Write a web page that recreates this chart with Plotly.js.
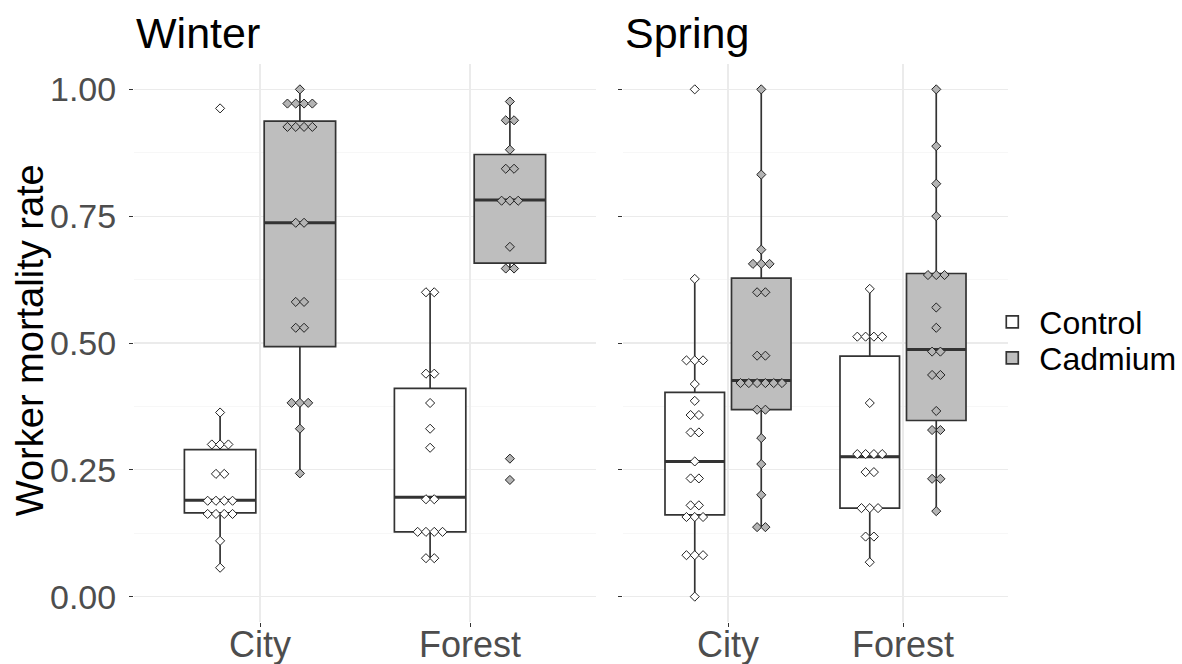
<!DOCTYPE html>
<html>
<head>
<meta charset="utf-8">
<script src="https://cdn.plot.ly/plotly-3.0.1.min.js"></script>
<style>html,body{margin:0;padding:0;background:#fff;}#chart{width:1182px;height:664px;}</style>
</head>
<body>
<div id="chart"></div>
<script>
// ---- data ----
const categories = ['City', 'Forest'];
const seasons = ['Winter', 'Spring'];
const treatments = ['Control', 'Cadmium'];
const yTickVals = [0, 0.25, 0.5, 0.75, 1];
const yTickText = ['0.00', '0.25', '0.50', '0.75', '1.00'];

const winterCityControl = [0.9625, 0.363, 0.29, 0.30, 0.31, 0.242, 0.242, 0.186, 0.188, 0.19, 0.192, 0.161, 0.161, 0.165, 0.165, 0.110, 0.057];
const winterCityCadmium = [1.0, 0.972, 0.972, 0.972, 0.972, 0.926, 0.926, 0.926, 0.926, 0.737, 0.737, 0.581, 0.581, 0.530, 0.530, 0.382, 0.382, 0.382, 0.331, 0.243];
const winterForestControl = [0.600, 0.600, 0.4395, 0.4395, 0.3817, 0.331, 0.2935, 0.188, 0.196, 0.1277, 0.1277, 0.1277, 0.1277, 0.0758, 0.0758];
const winterForestCadmium = [0.976, 0.939, 0.939, 0.881, 0.8435, 0.8435, 0.778, 0.781, 0.783, 0.6896, 0.6468, 0.6468, 0.272, 0.230];
const springCityControl = [1.0, 0.6264, 0.4658, 0.4658, 0.4658, 0.419, 0.386, 0.358, 0.358, 0.3237, 0.3237, 0.2665, 0.233, 0.233, 0.180, 0.180, 0.150, 0.158, 0.164, 0.0817, 0.0817, 0.0817, 0.0];
const springCityCadmium = [1.0, 0.832, 0.684, 0.656, 0.656, 0.656, 0.600, 0.600, 0.475, 0.475, 0.414, 0.416, 0.419, 0.422, 0.426, 0.428, 0.3685, 0.3685, 0.3126, 0.2613, 0.2007, 0.137, 0.137];
const springForestControl = [0.6067, 0.505, 0.51, 0.515, 0.52, 0.3817, 0.274, 0.278, 0.284, 0.288, 0.2455, 0.2455, 0.1745, 0.1745, 0.1745, 0.1184, 0.1184, 0.0679];
const springForestCadmium = [1.0, 0.888, 0.814, 0.75, 0.628, 0.634, 0.64, 0.570, 0.530, 0.479, 0.487, 0.437, 0.437, 0.366, 0.3284, 0.3284, 0.2323, 0.2323, 0.1685];

const seriesBySeason = {
  Winter: { Control: [winterCityControl, winterForestControl], Cadmium: [winterCityCadmium, winterForestCadmium] },
  Spring: { Control: [springCityControl, springForestControl], Cadmium: [springCityCadmium, springForestCadmium] }
};

// ---- styling / layout constants ----
const W = 1182, H = 664;
const M = { l: 134, r: 174, t: 64, b: 42, autoexpand: false };
const plotW = W - M.l - M.r;
const domains = { Winter: [0, 0.5286], Spring: [0.5595, 1] };
const xRange = [0.4, 2.6];
const BOXGAP = 0.24, BOXGROUPGAP = 0.105;
const fills = { Control: '#FFFFFF', Cadmium: '#BEBEBE' };
const dotFills = { Control: '#FFFFFF', Cadmium: '#B4B4B4' };
const DOT_PX = 8.3;       // horizontal spacing between stacked dots (px)
const ROW_GAP = 0.013;    // values closer than this share one dot row
const FONT = 'Liberation Sans, Arial, sans-serif';
const legendIds = { Control: 'legend', Cadmium: 'legend2' };

function dotRows(vals) {
  const s = [...vals].sort((a, b) => a - b);
  const rows = []; let cur = [s[0]];
  for (let i = 1; i < s.length; i++) {
    if (s[i] - s[i - 1] <= ROW_GAP) cur.push(s[i]);
    else { rows.push(cur); cur = [s[i]]; }
  }
  rows.push(cur);
  return rows.map(r => ({ y: (r[0] + r[r.length - 1]) / 2, n: r.length }));
}
// ggplot2 / R type-7 box statistics
function quantile7(s, p) {
  const h = (s.length - 1) * p, lo = Math.floor(h), hi = Math.ceil(h);
  return s[lo] + (s[hi] - s[lo]) * (h - lo);
}
function boxStats(vals) {
  const s = [...vals].sort((a, b) => a - b);
  const q1 = quantile7(s, 0.25), med = quantile7(s, 0.5), q3 = quantile7(s, 0.75);
  const iqr = q3 - q1;
  const inside = s.filter(v => v >= q1 - 1.5 * iqr && v <= q3 + 1.5 * iqr);
  return { q1, med, q3, lf: inside[0], uf: inside[inside.length - 1] };
}

const traces = [];
seasons.forEach((season, si) => {
  const xa = si === 0 ? 'x' : 'x2';
  const ya = si === 0 ? 'y' : 'y2';
  const d = domains[season];
  const pxPerUnit = (d[1] - d[0]) * plotW / (xRange[1] - xRange[0]);
  const spacing = DOT_PX / pxPerUnit;
  const halfBox = (1 - BOXGAP) / 4 * (1 - BOXGROUPGAP);
  treatments.forEach((tr, ti) => {
    const st = seriesBySeason[season][tr].map(boxStats);
    traces.push({
      type: 'box', x: categories.map((c, i) => i + 1), xaxis: xa, yaxis: ya,
      q1: st.map(s => s.q1), median: st.map(s => s.med), q3: st.map(s => s.q3),
      lowerfence: st.map(s => s.lf), upperfence: st.map(s => s.uf),
      name: tr, legendgroup: tr, legend: legendIds[tr], showlegend: si === 1,
      alignmentgroup: season, offsetgroup: tr,
      fillcolor: fills[tr], line: { color: '#333333', width: 1.7 },
      whiskerwidth: 0, hoverinfo: 'skip'
    });
  });
  // thicker median segments (ggplot style), from the same data
  const mx = [], my = [];
  treatments.forEach((tr, ti) => {
    const groupOffset = (ti === 0 ? -1 : 1) * (1 - BOXGAP) / 4;
    categories.forEach((cat, ci) => {
      const m = boxStats(seriesBySeason[season][tr][ci]).med;
      const c = ci + 1 + groupOffset;
      mx.push(c - halfBox, c + halfBox, null);
      my.push(m, m, null);
    });
  });
  traces.push({
    type: 'scatter', mode: 'lines', x: mx, y: my, xaxis: xa, yaxis: ya,
    showlegend: false, hoverinfo: 'skip', line: { color: '#333333', width: 3 }
  });
  treatments.forEach((tr, ti) => {
    const groupOffset = (ti === 0 ? -1 : 1) * (1 - BOXGAP) / 4;
    const px = [], py = [];
    categories.forEach((cat, ci) => {
      dotRows(seriesBySeason[season][tr][ci]).forEach(row => {
        for (let k = 0; k < row.n; k++) {
          px.push(ci + 1 + groupOffset + (k - (row.n - 1) / 2) * spacing);
          py.push(row.y);
        }
      });
    });
    traces.push({
      type: 'scatter', mode: 'markers', x: px, y: py, xaxis: xa, yaxis: ya,
      showlegend: false, hoverinfo: 'skip',
      marker: { symbol: 'diamond', size: 7, color: dotFills[tr], line: { color: '#222222', width: 1 } }
    });
  });
});

function xAxis(season, anchor) {
  return {
    domain: domains[season], anchor: anchor, range: xRange,
    tickmode: 'array', tickvals: categories.map((c, i) => i + 1), ticktext: categories,
    showgrid: true, gridcolor: '#EBEBEB', gridwidth: 1.2, zeroline: false, showline: false,
    ticks: 'outside', ticklen: 4, tickcolor: '#333333', tickwidth: 1, ticklabelstandoff: -13,
    tickfont: { family: FONT, size: 36, color: '#4D4D4D' }, fixedrange: true
  };
}
function yAxis(anchor, labels) {
  return {
    domain: [0, 1], anchor: anchor, range: [-0.05, 1.05],
    tickmode: 'array', tickvals: yTickVals, ticktext: yTickText, showticklabels: labels,
    showgrid: true, gridcolor: '#EBEBEB', gridwidth: 1.2, zeroline: false, showline: false,
    minor: { tickmode: 'linear', tick0: 0, dtick: 0.125, showgrid: true, gridcolor: '#F4F4F4', gridwidth: 0.7, ticks: '' },
    ticks: 'outside', ticklen: 4, tickcolor: '#333333', tickwidth: 1, ticklabelstandoff: 6,
    tickfont: { family: FONT, size: 34, color: '#4D4D4D' }, fixedrange: true
  };
}

const legendBase = { x: 0.974, xanchor: 'left', yanchor: 'middle', font: { family: FONT, size: 32, color: '#000' }, bgcolor: 'rgba(0,0,0,0)', itemwidth: 44 };

const layout = {
  width: W, height: H, margin: M,
  paper_bgcolor: '#FFFFFF', plot_bgcolor: '#FFFFFF',
  font: { family: FONT, color: '#000000' },
  boxmode: 'group', boxgap: BOXGAP, boxgroupgap: BOXGROUPGAP,
  xaxis: xAxis('Winter', 'y'), xaxis2: xAxis('Spring', 'y2'),
  yaxis: yAxis('x', true), yaxis2: yAxis('x2', false),
  showlegend: true,
  legend: Object.assign({}, legendBase, { y: 0.5376 }),
  legend2: Object.assign({}, legendBase, { y: 0.4731 }),
  annotations: [
    { text: seasons[0], xref: 'paper', yref: 'paper', x: domains.Winter[0], xanchor: 'left', y: 1.056, yanchor: 'middle', showarrow: false, font: { family: FONT, size: 43, color: '#000' } },
    { text: seasons[1], xref: 'paper', yref: 'paper', x: domains.Spring[0], xanchor: 'left', y: 1.056, yanchor: 'middle', showarrow: false, font: { family: FONT, size: 43, color: '#000' } },
    { text: 'Worker mortality rate', xref: 'paper', yref: 'paper', x: -0.119, xanchor: 'center', y: 0.505, yanchor: 'middle', textangle: -90, showarrow: false, font: { family: FONT, size: 38, color: '#000' } }
  ]
};

Plotly.newPlot('chart', traces, layout, { displayModeBar: false, staticPlot: true });
</script>
</body>
</html>
